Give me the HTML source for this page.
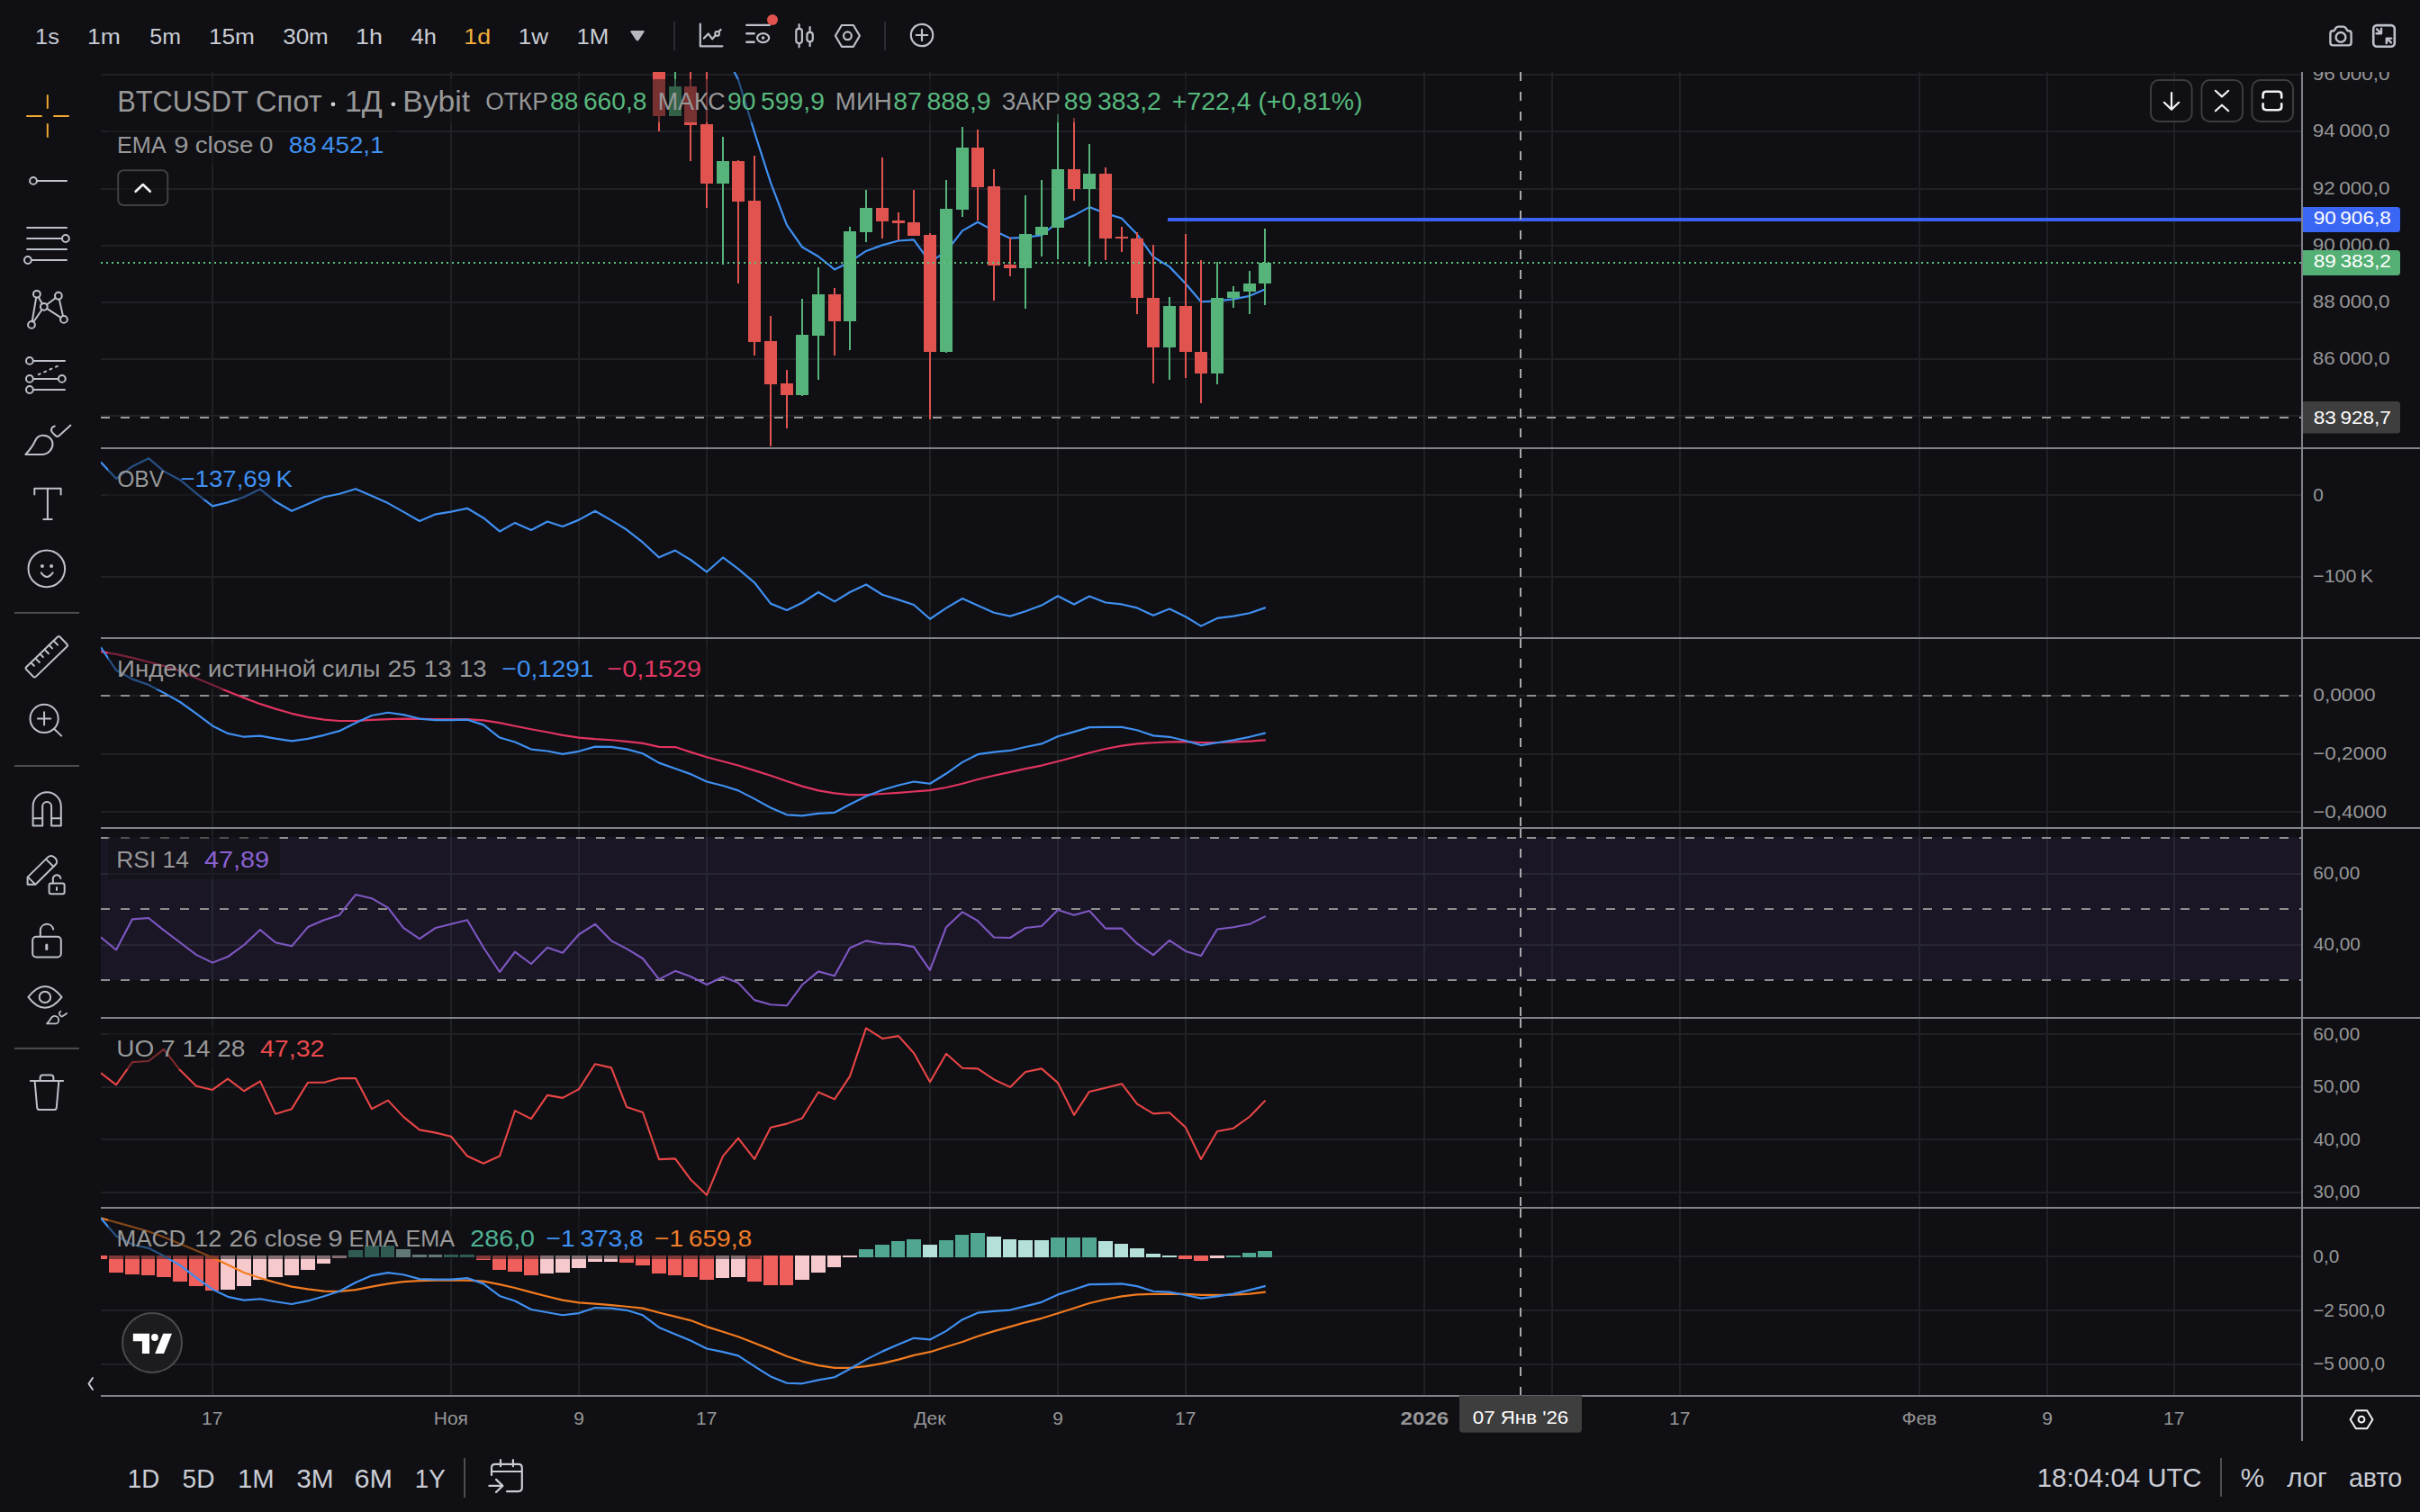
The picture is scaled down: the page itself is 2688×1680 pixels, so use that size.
<!DOCTYPE html><html><head><meta charset="utf-8"><style>
html,body{margin:0;padding:0;background:#0f0f14;width:2688px;height:1680px;overflow:hidden;}
svg{position:absolute;left:0;top:0;}
text{font-family:'Liberation Sans', Arial, sans-serif;}
</style></head><body>
<svg width="2688" height="1680" viewBox="0 0 2688 1680">
<defs>
<clipPath id="c_main"><rect x="112" y="80" width="2444" height="417"/></clipPath>
<clipPath id="c_obv"><rect x="112" y="499" width="2444" height="209"/></clipPath>
<clipPath id="c_tsi"><rect x="112" y="710" width="2444" height="209"/></clipPath>
<clipPath id="c_rsi"><rect x="112" y="921" width="2444" height="209"/></clipPath>
<clipPath id="c_uo"><rect x="112" y="1132" width="2444" height="209"/></clipPath>
<clipPath id="c_macd"><rect x="112" y="1343" width="2444" height="207"/></clipPath>
<clipPath id="c_pmain"><rect x="2558" y="80" width="130" height="417"/></clipPath>
</defs>
<g shape-rendering="crispEdges" fill="#1f2125">
<rect x="235" y="80" width="2" height="1470"/>
<rect x="500" y="80" width="2" height="1470"/>
<rect x="642" y="80" width="2" height="1470"/>
<rect x="784" y="80" width="2" height="1470"/>
<rect x="1032" y="80" width="2" height="1470"/>
<rect x="1174" y="80" width="2" height="1470"/>
<rect x="1316" y="80" width="2" height="1470"/>
<rect x="1581" y="80" width="2" height="1470"/>
<rect x="1723" y="80" width="2" height="1470"/>
<rect x="1865" y="80" width="2" height="1470"/>
<rect x="2131" y="80" width="2" height="1470"/>
<rect x="2273" y="80" width="2" height="1470"/>
<rect x="2414" y="80" width="2" height="1470"/>
<rect x="112" y="82" width="2444" height="2"/>
<rect x="112" y="145" width="2444" height="2"/>
<rect x="112" y="209" width="2444" height="2"/>
<rect x="112" y="272" width="2444" height="2"/>
<rect x="112" y="335" width="2444" height="2"/>
<rect x="112" y="398" width="2444" height="2"/>
<rect x="112" y="461" width="2444" height="2"/>
<rect x="112" y="549" width="2444" height="2"/>
<rect x="112" y="640" width="2444" height="2"/>
<rect x="112" y="772" width="2444" height="2"/>
<rect x="112" y="837" width="2444" height="2"/>
<rect x="112" y="901" width="2444" height="2"/>
<rect x="112" y="970" width="2444" height="2"/>
<rect x="112" y="1049" width="2444" height="2"/>
<rect x="112" y="1148" width="2444" height="2"/>
<rect x="112" y="1207" width="2444" height="2"/>
<rect x="112" y="1265" width="2444" height="2"/>
<rect x="112" y="1324" width="2444" height="2"/>
<rect x="112" y="1395" width="2444" height="2"/>
<rect x="112" y="1455" width="2444" height="2"/>
<rect x="112" y="1515" width="2444" height="2"/>
</g>
<rect x="112" y="930" width="2444" height="159" fill="rgba(126,87,194,0.1)" shape-rendering="crispEdges"/>
<line x1="112" y1="773" x2="2556" y2="773" stroke="#8f8f8f" stroke-width="2" stroke-dasharray="10 12" shape-rendering="crispEdges"/>
<line x1="112" y1="931" x2="2556" y2="931" stroke="#8f8f8f" stroke-width="2" stroke-dasharray="10 12" shape-rendering="crispEdges"/>
<line x1="112" y1="1010" x2="2556" y2="1010" stroke="#8f8f8f" stroke-width="2" stroke-dasharray="10 12" shape-rendering="crispEdges"/>
<line x1="112" y1="1089" x2="2556" y2="1089" stroke="#8f8f8f" stroke-width="2" stroke-dasharray="10 12" shape-rendering="crispEdges"/>
<line x1="112" y1="464" x2="2556" y2="464" stroke="#9a9a9a" stroke-width="2" stroke-dasharray="10 12" shape-rendering="crispEdges"/>
<g clip-path="url(#c_main)">
<path d="M767 -21.38 L785 23.69 L803 54.75 L820 88.6 L838 146.88 L856 202.91 L874 250.12 L891 274.5 L909 285 L927 299.4 L944 290.92 L962 278.94 L980 272.35 L998 267.48 L1015 266.38 L1033 291.31 L1051 279.45 L1069 256.36 L1086 246.68 L1104 256.35 L1122 264.68 L1139 263.74 L1157 261.39 L1175 246.72 L1193 239.37 L1210 230.1 L1228 237.08 L1246 242.66 L1263 260.33 L1281 285.46 L1299 296.37 L1317 315.3 L1334 335.24 L1352 334.39 L1370 332.31 L1388 328.85 L1405 321.48" fill="none" stroke="#3f8ff0" stroke-width="2.2" stroke-linejoin="round" stroke-linecap="round"/>
<g shape-rendering="crispEdges">
<rect x="731" y="70" width="2" height="76" fill="#e0534f"/>
<rect x="725" y="70" width="14" height="59" fill="#e0534f"/>
<rect x="749" y="70" width="2" height="59" fill="#56b37a"/>
<rect x="743" y="96" width="14" height="33" fill="#56b37a"/>
<rect x="766" y="70" width="2" height="109" fill="#e0534f"/>
<rect x="760" y="96" width="14" height="43" fill="#e0534f"/>
<rect x="784" y="70" width="2" height="161" fill="#e0534f"/>
<rect x="778" y="138" width="14" height="66" fill="#e0534f"/>
<rect x="802" y="152" width="2" height="142" fill="#56b37a"/>
<rect x="796" y="179" width="14" height="25" fill="#56b37a"/>
<rect x="819" y="178" width="2" height="137" fill="#e0534f"/>
<rect x="813" y="179" width="14" height="45" fill="#e0534f"/>
<rect x="837" y="173" width="2" height="222" fill="#e0534f"/>
<rect x="831" y="223" width="14" height="157" fill="#e0534f"/>
<rect x="855" y="351" width="2" height="145" fill="#e0534f"/>
<rect x="849" y="379" width="14" height="48" fill="#e0534f"/>
<rect x="873" y="411" width="2" height="65" fill="#e0534f"/>
<rect x="867" y="426" width="14" height="13" fill="#e0534f"/>
<rect x="890" y="332" width="2" height="108" fill="#56b37a"/>
<rect x="884" y="372" width="14" height="67" fill="#56b37a"/>
<rect x="908" y="297" width="2" height="125" fill="#56b37a"/>
<rect x="902" y="327" width="14" height="46" fill="#56b37a"/>
<rect x="926" y="320" width="2" height="75" fill="#e0534f"/>
<rect x="920" y="327" width="14" height="30" fill="#e0534f"/>
<rect x="943" y="252" width="2" height="137" fill="#56b37a"/>
<rect x="937" y="257" width="14" height="100" fill="#56b37a"/>
<rect x="961" y="211" width="2" height="58" fill="#56b37a"/>
<rect x="955" y="231" width="14" height="27" fill="#56b37a"/>
<rect x="979" y="175" width="2" height="90" fill="#e0534f"/>
<rect x="973" y="231" width="14" height="15" fill="#e0534f"/>
<rect x="997" y="236" width="2" height="31" fill="#e0534f"/>
<rect x="991" y="245" width="14" height="3" fill="#e0534f"/>
<rect x="1014" y="211" width="2" height="51" fill="#e0534f"/>
<rect x="1008" y="247" width="14" height="15" fill="#e0534f"/>
<rect x="1032" y="259" width="2" height="207" fill="#e0534f"/>
<rect x="1026" y="261" width="14" height="130" fill="#e0534f"/>
<rect x="1050" y="200" width="2" height="192" fill="#56b37a"/>
<rect x="1044" y="232" width="14" height="159" fill="#56b37a"/>
<rect x="1068" y="141" width="2" height="100" fill="#56b37a"/>
<rect x="1062" y="164" width="14" height="69" fill="#56b37a"/>
<rect x="1085" y="144" width="2" height="101" fill="#e0534f"/>
<rect x="1079" y="164" width="14" height="44" fill="#e0534f"/>
<rect x="1103" y="188" width="2" height="146" fill="#e0534f"/>
<rect x="1097" y="207" width="14" height="88" fill="#e0534f"/>
<rect x="1121" y="264" width="2" height="43" fill="#e0534f"/>
<rect x="1115" y="294" width="14" height="4" fill="#e0534f"/>
<rect x="1138" y="217" width="2" height="126" fill="#56b37a"/>
<rect x="1132" y="260" width="14" height="38" fill="#56b37a"/>
<rect x="1156" y="200" width="2" height="85" fill="#56b37a"/>
<rect x="1150" y="252" width="14" height="9" fill="#56b37a"/>
<rect x="1174" y="127" width="2" height="161" fill="#56b37a"/>
<rect x="1168" y="188" width="14" height="65" fill="#56b37a"/>
<rect x="1192" y="131" width="2" height="92" fill="#e0534f"/>
<rect x="1186" y="188" width="14" height="22" fill="#e0534f"/>
<rect x="1209" y="160" width="2" height="136" fill="#56b37a"/>
<rect x="1203" y="193" width="14" height="17" fill="#56b37a"/>
<rect x="1227" y="186" width="2" height="103" fill="#e0534f"/>
<rect x="1221" y="193" width="14" height="72" fill="#e0534f"/>
<rect x="1245" y="252" width="2" height="28" fill="#e0534f"/>
<rect x="1239" y="263" width="14" height="2" fill="#e0534f"/>
<rect x="1262" y="258" width="2" height="91" fill="#e0534f"/>
<rect x="1256" y="265" width="14" height="66" fill="#e0534f"/>
<rect x="1280" y="272" width="2" height="154" fill="#e0534f"/>
<rect x="1274" y="331" width="14" height="55" fill="#e0534f"/>
<rect x="1298" y="330" width="2" height="92" fill="#56b37a"/>
<rect x="1292" y="340" width="14" height="46" fill="#56b37a"/>
<rect x="1316" y="260" width="2" height="160" fill="#e0534f"/>
<rect x="1310" y="340" width="14" height="51" fill="#e0534f"/>
<rect x="1333" y="289" width="2" height="159" fill="#e0534f"/>
<rect x="1327" y="391" width="14" height="24" fill="#e0534f"/>
<rect x="1351" y="291" width="2" height="136" fill="#56b37a"/>
<rect x="1345" y="331" width="14" height="84" fill="#56b37a"/>
<rect x="1369" y="318" width="2" height="24" fill="#56b37a"/>
<rect x="1363" y="324" width="14" height="7" fill="#56b37a"/>
<rect x="1387" y="301" width="2" height="48" fill="#56b37a"/>
<rect x="1381" y="315" width="14" height="9" fill="#56b37a"/>
<rect x="1404" y="254" width="2" height="85" fill="#56b37a"/>
<rect x="1398" y="292" width="14" height="23" fill="#56b37a"/>
</g>
<rect x="1297" y="242" width="1259" height="4" fill="#3b63f2" shape-rendering="crispEdges"/>
<line x1="112" y1="292" x2="2556" y2="292" stroke="#5cc580" stroke-width="2" stroke-dasharray="2 4" shape-rendering="crispEdges"/>
</g>
<path d="M112.5 514.09 L129 531.81 L147 518.18 L165 509.18 L182 523.63 L200 533.18 L218 548.18 L236 562.36 L253 558.27 L271 552.27 L289 543.54 L306 557.18 L324 567.81 L342 559.9 L360 552.27 L377 548.72 L395 543.27 L413 550.9 L431 559.09 L448 568.63 L466 578.99 L484 571.36 L501 568.63 L519 564.81 L537 575.45 L555 590.45 L572 580.9 L590 589.08 L608 579.54 L625 584.99 L643 577.63 L661 567.81 L679 578.17 L696 588.54 L714 602.72 L732 619.35 L750 611.61 L767 622 L785 635.49 L803 619.47 L820 632.12 L838 647.29 L856 670.61 L874 677.92 L891 669.77 L909 657.97 L927 668.36 L944 657.97 L962 649.54 L980 660.78 L998 666.4 L1015 672.02 L1033 687.75 L1051 675.67 L1069 664.99 L1086 672.86 L1104 680.73 L1122 684.66 L1139 679.32 L1157 672.58 L1175 662.18 L1193 671.45 L1210 662.46 L1228 669.49 L1246 671.45 L1263 675.39 L1281 683.82 L1299 676.51 L1317 685.22 L1334 695.62 L1352 686.91 L1370 684.66 L1388 681.29 L1405 675.39" fill="none" stroke="#3f8ff0" stroke-width="2.2" stroke-linejoin="round" stroke-linecap="round" clip-path="url(#c_obv)"/>
<path d="M112.5 724.09 L129 726.82 L147 730.91 L165 735.54 L182 739.91 L200 745.36 L218 753.54 L236 760.9 L253 768.27 L271 775.36 L289 782.17 L306 787.63 L324 792.81 L342 796.9 L360 799.63 L377 800.99 L395 800.99 L413 799.9 L431 799.08 L448 798.54 L466 798.81 L484 799.08 L501 799.08 L519 799.08 L537 800.45 L555 803.17 L572 806.72 L590 810.26 L608 813.54 L625 816.81 L643 819.54 L661 821.17 L679 822.26 L696 823.9 L714 825.81 L732 829.9 L750 830.04 L767 835.65 L785 841.27 L803 846.05 L820 850.55 L838 856.17 L856 861.79 L874 867.97 L891 873.59 L909 878.36 L927 881.45 L944 883.14 L962 883.14 L980 882.02 L998 880.89 L1015 879.49 L1033 878.08 L1051 874.99 L1069 870.78 L1086 866 L1104 861.79 L1122 857.85 L1139 854.2 L1157 850.55 L1175 846.05 L1193 841.27 L1210 836.5 L1228 832 L1246 828.63 L1263 826.38 L1281 825.26 L1299 824.42 L1317 824.13 L1334 824.98 L1352 824.98 L1370 824.42 L1388 823.57 L1405 822.45" fill="none" stroke="#e0345f" stroke-width="2.2" stroke-linejoin="round" stroke-linecap="round" clip-path="url(#c_tsi)"/>
<path d="M112.5 720 L129 744.54 L147 754.63 L165 760.9 L182 769.9 L200 779.99 L218 792.81 L236 806.45 L253 814.9 L271 818.72 L289 817.63 L306 820.63 L324 823.35 L342 820.9 L360 816.81 L377 812.17 L395 803.17 L413 794.99 L431 791.72 L448 794.17 L466 798.54 L484 800.17 L501 800.17 L519 799.63 L537 805.35 L555 819.54 L572 824.44 L590 832.62 L608 834.53 L625 837.81 L643 834.81 L661 829.63 L679 829.9 L696 832.35 L714 837.26 L732 847.62 L750 853.92 L767 860.1 L785 868.53 L803 873.02 L820 878.36 L838 887.64 L856 897.47 L874 905.34 L891 906.46 L909 903.93 L927 902.81 L944 893.82 L962 884.83 L980 877.8 L998 872.46 L1015 868.53 L1033 870.78 L1051 859.54 L1069 846.89 L1086 838.18 L1104 835.65 L1122 833.97 L1139 830.04 L1157 826.38 L1175 818.23 L1193 813.18 L1210 808.12 L1228 807.84 L1246 807.84 L1263 811.21 L1281 817.39 L1299 818.8 L1317 823.01 L1334 828.07 L1352 825.26 L1370 822.45 L1388 818.8 L1405 814.58" fill="none" stroke="#3f8ff0" stroke-width="2.2" stroke-linejoin="round" stroke-linecap="round" clip-path="url(#c_tsi)"/>
<path d="M112.5 1041.81 L129 1055.44 L147 1021.35 L165 1019.99 L182 1033.63 L200 1047.26 L218 1060.9 L236 1069.62 L253 1063.08 L271 1049.99 L289 1033.08 L306 1047.26 L324 1051.35 L342 1030.08 L360 1022.17 L377 1016.72 L395 994.08 L413 998.17 L431 1008.54 L448 1030.9 L466 1043.17 L484 1030.9 L501 1026.81 L519 1022.17 L537 1052.71 L555 1079.99 L572 1057.62 L590 1070.99 L608 1052.71 L625 1058.71 L643 1038.26 L661 1026.81 L679 1045.35 L696 1054.08 L714 1064.99 L732 1088.17 L750 1078.81 L767 1084.99 L785 1093.98 L803 1085.55 L820 1092.02 L838 1111.12 L856 1116.18 L874 1117.3 L891 1094.26 L909 1079.37 L927 1084.15 L944 1053.24 L962 1045.37 L980 1048.46 L998 1049.03 L1015 1052.12 L1033 1077.97 L1051 1030.2 L1069 1013.34 L1086 1023.18 L1104 1041.44 L1122 1042 L1139 1031.04 L1157 1029.08 L1175 1011.09 L1193 1016.71 L1210 1011.94 L1228 1031.61 L1246 1031.61 L1263 1048.46 L1281 1061.11 L1299 1044.81 L1317 1056.89 L1334 1061.95 L1352 1032.45 L1370 1030.2 L1388 1026.83 L1405 1018.4" fill="none" stroke="#7e57c2" stroke-width="2.1" stroke-linejoin="round" stroke-linecap="round" clip-path="url(#c_rsi)"/>
<path d="M112.5 1192.63 L129 1205.45 L147 1180.09 L165 1179 L182 1165.91 L200 1189.09 L218 1206.81 L236 1210.9 L253 1198.63 L271 1212.26 L289 1201.36 L306 1237.63 L324 1232.17 L342 1202.72 L360 1202.72 L377 1198.08 L395 1198.08 L413 1232.17 L431 1222.63 L448 1240.9 L466 1255.35 L484 1258.62 L501 1262.71 L519 1284.53 L537 1292.71 L555 1284.53 L572 1234.08 L590 1243.08 L608 1216.9 L625 1219.9 L643 1210.08 L661 1182.27 L679 1186.36 L696 1229.99 L714 1235.99 L732 1288.08 L750 1287.41 L767 1310.45 L785 1327.87 L803 1284.6 L820 1264.65 L838 1287.97 L856 1252.84 L874 1248.63 L891 1242.45 L909 1213.51 L927 1221.38 L944 1195.81 L962 1142.42 L980 1153.94 L998 1151.13 L1015 1169.96 L1033 1202.27 L1051 1170.8 L1069 1186.82 L1086 1187.38 L1104 1199.46 L1122 1207.89 L1139 1191.03 L1157 1187.38 L1175 1203.11 L1193 1238.8 L1210 1212.95 L1228 1208.73 L1246 1204.24 L1263 1226.71 L1281 1237.39 L1299 1236.27 L1317 1252.84 L1334 1287.97 L1352 1257.06 L1370 1253.69 L1388 1240.76 L1405 1223.34" fill="none" stroke="#e84545" stroke-width="2.1" stroke-linejoin="round" stroke-linecap="round" clip-path="url(#c_uo)"/>
<g clip-path="url(#c_macd)" shape-rendering="crispEdges">
<rect x="104" y="1395" width="15" height="4" fill="#ef5f5c"/>
<rect x="121" y="1395" width="16" height="19" fill="#ef5f5c"/>
<rect x="139" y="1395" width="16" height="21" fill="#ef5f5c"/>
<rect x="157" y="1395" width="15" height="22" fill="#ef5f5c"/>
<rect x="174" y="1395" width="16" height="24" fill="#ef5f5c"/>
<rect x="192" y="1395" width="16" height="29" fill="#ef5f5c"/>
<rect x="210" y="1395" width="16" height="34" fill="#ef5f5c"/>
<rect x="228" y="1395" width="15" height="39" fill="#ef5f5c"/>
<rect x="245" y="1395" width="16" height="38" fill="#f6c9cc"/>
<rect x="263" y="1395" width="16" height="34" fill="#f6c9cc"/>
<rect x="281" y="1395" width="15" height="27" fill="#f6c9cc"/>
<rect x="298" y="1395" width="16" height="24" fill="#f6c9cc"/>
<rect x="316" y="1395" width="16" height="22" fill="#f6c9cc"/>
<rect x="334" y="1395" width="16" height="16" fill="#f6c9cc"/>
<rect x="352" y="1395" width="15" height="9" fill="#f6c9cc"/>
<rect x="369" y="1395" width="16" height="3" fill="#f6c9cc"/>
<rect x="387" y="1389" width="16" height="8" fill="#50a690"/>
<rect x="405" y="1384" width="16" height="13" fill="#50a690"/>
<rect x="423" y="1384" width="15" height="13" fill="#50a690"/>
<rect x="440" y="1388" width="16" height="9" fill="#b5e0da"/>
<rect x="458" y="1394" width="16" height="3" fill="#b5e0da"/>
<rect x="476" y="1394" width="15" height="3" fill="#b5e0da"/>
<rect x="493" y="1394" width="16" height="3" fill="#50a690"/>
<rect x="511" y="1394" width="16" height="3" fill="#50a690"/>
<rect x="529" y="1395" width="16" height="5" fill="#ef5f5c"/>
<rect x="547" y="1395" width="15" height="16" fill="#ef5f5c"/>
<rect x="564" y="1395" width="16" height="18" fill="#ef5f5c"/>
<rect x="582" y="1395" width="16" height="22" fill="#ef5f5c"/>
<rect x="600" y="1395" width="15" height="20" fill="#f6c9cc"/>
<rect x="617" y="1395" width="16" height="19" fill="#f6c9cc"/>
<rect x="635" y="1395" width="16" height="14" fill="#f6c9cc"/>
<rect x="653" y="1395" width="16" height="7" fill="#f6c9cc"/>
<rect x="671" y="1395" width="15" height="7" fill="#f6c9cc"/>
<rect x="688" y="1395" width="16" height="8" fill="#ef5f5c"/>
<rect x="706" y="1395" width="16" height="11" fill="#ef5f5c"/>
<rect x="724" y="1395" width="16" height="20" fill="#ef5f5c"/>
<rect x="742" y="1395" width="15" height="22" fill="#ef5f5c"/>
<rect x="759" y="1395" width="16" height="24" fill="#ef5f5c"/>
<rect x="777" y="1395" width="16" height="27" fill="#ef5f5c"/>
<rect x="795" y="1395" width="15" height="25" fill="#f6c9cc"/>
<rect x="812" y="1395" width="16" height="24" fill="#f6c9cc"/>
<rect x="830" y="1395" width="16" height="29" fill="#ef5f5c"/>
<rect x="848" y="1395" width="16" height="33" fill="#ef5f5c"/>
<rect x="866" y="1395" width="15" height="33" fill="#ef5f5c"/>
<rect x="883" y="1395" width="16" height="27" fill="#f6c9cc"/>
<rect x="901" y="1395" width="16" height="19" fill="#f6c9cc"/>
<rect x="919" y="1395" width="15" height="13" fill="#f6c9cc"/>
<rect x="936" y="1395" width="16" height="2" fill="#f6c9cc"/>
<rect x="954" y="1388" width="16" height="9" fill="#50a690"/>
<rect x="972" y="1383" width="16" height="14" fill="#50a690"/>
<rect x="990" y="1379" width="15" height="18" fill="#50a690"/>
<rect x="1007" y="1377" width="16" height="20" fill="#50a690"/>
<rect x="1025" y="1383" width="16" height="14" fill="#b5e0da"/>
<rect x="1043" y="1378" width="16" height="19" fill="#50a690"/>
<rect x="1061" y="1372" width="15" height="25" fill="#50a690"/>
<rect x="1078" y="1370" width="16" height="27" fill="#50a690"/>
<rect x="1096" y="1374" width="16" height="23" fill="#b5e0da"/>
<rect x="1114" y="1377" width="15" height="20" fill="#b5e0da"/>
<rect x="1131" y="1378" width="16" height="19" fill="#b5e0da"/>
<rect x="1149" y="1378" width="16" height="19" fill="#b5e0da"/>
<rect x="1167" y="1375" width="16" height="22" fill="#50a690"/>
<rect x="1185" y="1375" width="15" height="22" fill="#50a690"/>
<rect x="1202" y="1375" width="16" height="22" fill="#50a690"/>
<rect x="1220" y="1379" width="16" height="18" fill="#b5e0da"/>
<rect x="1238" y="1382" width="15" height="15" fill="#b5e0da"/>
<rect x="1255" y="1387" width="16" height="10" fill="#b5e0da"/>
<rect x="1273" y="1393" width="16" height="4" fill="#b5e0da"/>
<rect x="1291" y="1395" width="16" height="2" fill="#b5e0da"/>
<rect x="1309" y="1395" width="15" height="4" fill="#ef5f5c"/>
<rect x="1326" y="1395" width="16" height="6" fill="#ef5f5c"/>
<rect x="1344" y="1395" width="16" height="3" fill="#f6c9cc"/>
<rect x="1362" y="1395" width="16" height="2" fill="#50a690"/>
<rect x="1380" y="1392" width="15" height="5" fill="#50a690"/>
<rect x="1397" y="1390" width="16" height="7" fill="#50a690"/>
</g>
<path d="M112.5 1353.54 L129 1358.18 L147 1363.09 L165 1368.27 L182 1374.54 L200 1381.9 L218 1389.54 L236 1397.18 L253 1405.36 L271 1414.08 L289 1420.08 L306 1424.99 L324 1429.63 L342 1432.35 L360 1434.54 L377 1434.81 L395 1433.17 L413 1429.63 L431 1426.36 L448 1424.17 L466 1423.08 L484 1422.54 L501 1422.54 L519 1422.54 L537 1423.63 L555 1427.17 L572 1430.99 L590 1435.9 L608 1440.54 L625 1444.63 L643 1447.35 L661 1448.72 L679 1450.08 L696 1451.72 L714 1453.63 L732 1458.53 L750 1462.84 L767 1467.06 L785 1474.08 L803 1479.7 L820 1485.32 L838 1492.35 L856 1499.37 L874 1506.96 L891 1512.58 L909 1517.07 L927 1519.88 L944 1519.88 L962 1518.2 L980 1514.83 L998 1510.61 L1015 1505.83 L1033 1502.18 L1051 1496.56 L1069 1490.94 L1086 1484.76 L1104 1479.14 L1122 1474.08 L1139 1469.31 L1157 1464.81 L1175 1459.19 L1193 1453.57 L1210 1447.95 L1228 1443.74 L1246 1440.37 L1263 1438.4 L1281 1437.84 L1299 1437.56 L1317 1437.84 L1334 1438.96 L1352 1438.96 L1370 1438.68 L1388 1437.56 L1405 1435.59" fill="none" stroke="#f27b1f" stroke-width="2.2" stroke-linejoin="round" stroke-linecap="round" clip-path="url(#c_macd)"/>
<path d="M112.5 1354.09 L129 1373.18 L147 1382.72 L165 1386.81 L182 1395.54 L200 1405.9 L218 1419.54 L236 1432.63 L253 1440.81 L271 1444.63 L289 1443.26 L306 1446.26 L324 1448.99 L342 1445.44 L360 1440.26 L377 1434.81 L395 1424.99 L413 1417.36 L431 1414.08 L448 1416.27 L466 1421.17 L484 1421.72 L501 1421.72 L519 1420.08 L537 1426.36 L555 1439.99 L572 1445.44 L590 1454.99 L608 1458.26 L625 1461.26 L643 1459.08 L661 1453.08 L679 1453.63 L696 1455.81 L714 1461.26 L732 1474.9 L750 1482.51 L767 1489.54 L785 1498.53 L803 1502.18 L820 1506.4 L838 1518.2 L856 1529.44 L874 1536.74 L891 1537.3 L909 1533.37 L927 1530.28 L944 1521.01 L962 1510.61 L980 1501.62 L998 1493.75 L1015 1486.73 L1033 1488.41 L1051 1478.86 L1069 1466.22 L1086 1458.63 L1104 1456.94 L1122 1455.54 L1139 1451.32 L1157 1446.83 L1175 1438.4 L1193 1432.78 L1210 1427.16 L1228 1426.88 L1246 1426.32 L1263 1429.13 L1281 1434.75 L1299 1435.59 L1317 1438.96 L1334 1442.61 L1352 1440.37 L1370 1437.56 L1388 1433.34 L1405 1429.13" fill="none" stroke="#3f8ff0" stroke-width="2.2" stroke-linejoin="round" stroke-linecap="round" clip-path="url(#c_macd)"/>
<line x1="1689" y1="80" x2="1689" y2="497" stroke="#a8a8a8" stroke-width="2" stroke-dasharray="10 12" shape-rendering="crispEdges"/>
<line x1="1689" y1="499" x2="1689" y2="708" stroke="#a8a8a8" stroke-width="2" stroke-dasharray="10 12" shape-rendering="crispEdges"/>
<line x1="1689" y1="710" x2="1689" y2="919" stroke="#a8a8a8" stroke-width="2" stroke-dasharray="10 12" shape-rendering="crispEdges"/>
<line x1="1689" y1="921" x2="1689" y2="1130" stroke="#a8a8a8" stroke-width="2" stroke-dasharray="10 12" shape-rendering="crispEdges"/>
<line x1="1689" y1="1132" x2="1689" y2="1341" stroke="#a8a8a8" stroke-width="2" stroke-dasharray="10 12" shape-rendering="crispEdges"/>
<line x1="1689" y1="1343" x2="1689" y2="1550" stroke="#a8a8a8" stroke-width="2" stroke-dasharray="10 12" shape-rendering="crispEdges"/>
<rect x="120" y="88" width="1406" height="48" fill="rgba(15,15,20,0.5)"/>
<rect x="120" y="136" width="321" height="48" fill="rgba(15,15,20,0.5)"/>
<rect x="120" y="507" width="218" height="48" fill="rgba(15,15,20,0.5)"/>
<rect x="120" y="718" width="672" height="48" fill="rgba(15,15,20,0.5)"/>
<rect x="120" y="929" width="191" height="48" fill="rgba(15,15,20,0.5)"/>
<rect x="120" y="1140" width="249" height="48" fill="rgba(15,15,20,0.5)"/>
<rect x="120" y="1351" width="725" height="48" fill="rgba(15,15,20,0.5)"/>
<text x="130.23" y="124.00" font-size="33" fill="#989898" textLength="145.55" lengthAdjust="spacingAndGlyphs">BTCUSDT</text>
<text x="284.07" y="124.00" font-size="33" fill="#989898" textLength="73.55" lengthAdjust="spacingAndGlyphs">Спот</text>
<text x="382.96" y="124.00" font-size="33" fill="#989898" textLength="41.76" lengthAdjust="spacingAndGlyphs">1Д</text>
<text x="447.20" y="124.00" font-size="33" fill="#989898" textLength="74.97" lengthAdjust="spacingAndGlyphs">Bybit</text>
<circle cx="370.0" cy="115.8" r="2.4" fill="#d4d4d4"/>
<circle cx="436.9" cy="115.8" r="2.4" fill="#d4d4d4"/>
<text x="539.21" y="122.20" font-size="27" fill="#989898" textLength="69.59" lengthAdjust="spacingAndGlyphs">ОТКР</text>
<text x="611.03" y="122.20" font-size="27" fill="#58b87c" textLength="107.39" lengthAdjust="spacingAndGlyphs">88 660,8</text>
<text x="730.65" y="122.20" font-size="27" fill="#989898" textLength="75.09" lengthAdjust="spacingAndGlyphs">МАКС</text>
<text x="808.03" y="122.20" font-size="27" fill="#58b87c" textLength="107.85" lengthAdjust="spacingAndGlyphs">90 599,9</text>
<text x="927.89" y="122.20" font-size="27" fill="#989898" textLength="62.83" lengthAdjust="spacingAndGlyphs">МИН</text>
<text x="992.22" y="122.20" font-size="27" fill="#58b87c" textLength="108.36" lengthAdjust="spacingAndGlyphs">87 888,9</text>
<text x="1112.69" y="122.20" font-size="27" fill="#989898" textLength="65.21" lengthAdjust="spacingAndGlyphs">ЗАКР</text>
<text x="1181.72" y="122.20" font-size="27" fill="#58b87c" textLength="108.09" lengthAdjust="spacingAndGlyphs">89 383,2</text>
<text x="1301.88" y="122.20" font-size="27" fill="#58b87c" textLength="211.56" lengthAdjust="spacingAndGlyphs">+722,4 (+0,81%)</text>
<text x="129.89" y="170.00" font-size="26.5" fill="#989898" textLength="54.57" lengthAdjust="spacingAndGlyphs">EMA</text>
<text x="193.28" y="170.00" font-size="26.5" fill="#989898" textLength="16.27" lengthAdjust="spacingAndGlyphs">9</text>
<text x="216.69" y="170.00" font-size="26.5" fill="#989898" textLength="64.64" lengthAdjust="spacingAndGlyphs">close</text>
<text x="288.31" y="170.00" font-size="26.5" fill="#989898" textLength="15.18" lengthAdjust="spacingAndGlyphs">0</text>
<text x="320.75" y="170.00" font-size="26.5" fill="#3f91f2" textLength="105.70" lengthAdjust="spacingAndGlyphs">88 452,1</text>
<text x="130.19" y="541.00" font-size="26.5" fill="#989898" textLength="51.87" lengthAdjust="spacingAndGlyphs">OBV</text>
<text x="200.42" y="541.00" font-size="26.5" fill="#3f91f2" textLength="124.66" lengthAdjust="spacingAndGlyphs">−137,69 K</text>
<text x="130.09" y="752.20" font-size="26.5" fill="#989898" textLength="92.89" lengthAdjust="spacingAndGlyphs">Индекс</text>
<text x="230.74" y="752.20" font-size="26.5" fill="#989898" textLength="120.52" lengthAdjust="spacingAndGlyphs">истинной</text>
<text x="357.70" y="752.20" font-size="26.5" fill="#989898" textLength="64.64" lengthAdjust="spacingAndGlyphs">силы</text>
<text x="430.58" y="752.20" font-size="26.5" fill="#989898" textLength="31.63" lengthAdjust="spacingAndGlyphs">25</text>
<text x="470.83" y="752.20" font-size="26.5" fill="#989898" textLength="30.63" lengthAdjust="spacingAndGlyphs">13</text>
<text x="509.93" y="752.20" font-size="26.5" fill="#989898" textLength="30.63" lengthAdjust="spacingAndGlyphs">13</text>
<text x="557.61" y="752.20" font-size="26.5" fill="#3f91f2" textLength="101.62" lengthAdjust="spacingAndGlyphs">−0,1291</text>
<text x="674.36" y="752.20" font-size="26.5" fill="#e13764" textLength="104.71" lengthAdjust="spacingAndGlyphs">−0,1529</text>
<text x="129.29" y="963.50" font-size="26.5" fill="#989898" textLength="80.66" lengthAdjust="spacingAndGlyphs">RSI 14</text>
<text x="227.02" y="963.50" font-size="26.5" fill="#8a62d4" textLength="72.04" lengthAdjust="spacingAndGlyphs">47,89</text>
<text x="129.30" y="1174.00" font-size="26.5" fill="#989898" textLength="143.10" lengthAdjust="spacingAndGlyphs">UO 7 14 28</text>
<text x="288.93" y="1174.00" font-size="26.5" fill="#e84a4d" textLength="71.57" lengthAdjust="spacingAndGlyphs">47,32</text>
<text x="129.51" y="1384.60" font-size="26.5" fill="#989898" textLength="76.78" lengthAdjust="spacingAndGlyphs">MACD</text>
<text x="216.18" y="1384.60" font-size="26.5" fill="#989898" textLength="29.93" lengthAdjust="spacingAndGlyphs">12</text>
<text x="254.47" y="1384.60" font-size="26.5" fill="#989898" textLength="31.73" lengthAdjust="spacingAndGlyphs">26</text>
<text x="293.81" y="1384.60" font-size="26.5" fill="#989898" textLength="63.81" lengthAdjust="spacingAndGlyphs">close</text>
<text x="364.36" y="1384.60" font-size="26.5" fill="#989898" textLength="16.51" lengthAdjust="spacingAndGlyphs">9</text>
<text x="387.47" y="1384.60" font-size="26.5" fill="#989898" textLength="54.98" lengthAdjust="spacingAndGlyphs">EMA</text>
<text x="450.49" y="1384.60" font-size="26.5" fill="#989898" textLength="54.57" lengthAdjust="spacingAndGlyphs">EMA</text>
<text x="522.37" y="1384.60" font-size="26.5" fill="#4fb394" textLength="71.71" lengthAdjust="spacingAndGlyphs">286,0</text>
<text x="606.49" y="1384.60" font-size="26.5" fill="#3f91f2" textLength="108.22" lengthAdjust="spacingAndGlyphs">−1 373,8</text>
<text x="726.99" y="1384.60" font-size="26.5" fill="#f07d28" textLength="108.22" lengthAdjust="spacingAndGlyphs">−1 659,8</text>
<g clip-path="url(#c_pmain)">
<text x="2568.89" y="89.00" font-size="20.8" fill="#979797" textLength="85.60" lengthAdjust="spacingAndGlyphs">96 000,0</text>
<text x="2568.89" y="152.00" font-size="20.8" fill="#979797" textLength="85.60" lengthAdjust="spacingAndGlyphs">94 000,0</text>
<text x="2568.89" y="216.00" font-size="20.8" fill="#979797" textLength="85.60" lengthAdjust="spacingAndGlyphs">92 000,0</text>
<text x="2568.89" y="279.00" font-size="20.8" fill="#979797" textLength="85.60" lengthAdjust="spacingAndGlyphs">90 000,0</text>
<text x="2568.89" y="342.00" font-size="20.8" fill="#979797" textLength="85.60" lengthAdjust="spacingAndGlyphs">88 000,0</text>
<text x="2568.89" y="405.00" font-size="20.8" fill="#979797" textLength="85.60" lengthAdjust="spacingAndGlyphs">86 000,0</text>
</g>
<text x="2569.37" y="556.50" font-size="20.8" fill="#979797">0</text>
<text x="2569.12" y="647.10" font-size="20.8" fill="#979797" textLength="67.09" lengthAdjust="spacingAndGlyphs">−100 K</text>
<text x="2569.29" y="779.20" font-size="20.8" fill="#979797" textLength="69.47" lengthAdjust="spacingAndGlyphs">0,0000</text>
<text x="2569.07" y="844.30" font-size="20.8" fill="#979797" textLength="82.08" lengthAdjust="spacingAndGlyphs">−0,2000</text>
<text x="2569.07" y="908.50" font-size="20.8" fill="#979797" textLength="82.08" lengthAdjust="spacingAndGlyphs">−0,4000</text>
<text x="2569.16" y="977.40" font-size="20.8" fill="#979797">60,00</text>
<text x="2569.78" y="1056.20" font-size="20.8" fill="#979797">40,00</text>
<text x="2569.16" y="1155.50" font-size="20.8" fill="#979797">60,00</text>
<text x="2569.37" y="1214.30" font-size="20.8" fill="#979797">50,00</text>
<text x="2569.78" y="1272.50" font-size="20.8" fill="#979797">40,00</text>
<text x="2569.37" y="1331.20" font-size="20.8" fill="#979797">30,00</text>
<text x="2569.37" y="1402.50" font-size="20.8" fill="#979797">0,0</text>
<text x="2569.16" y="1462.50" font-size="20.8" fill="#979797">−2 500,0</text>
<text x="2569.16" y="1522.20" font-size="20.8" fill="#979797">−5 000,0</text>
<path d="M2558 230.0 H2662.5 a3.5 3.5 0 0 1 3.5 3.5 V254.5 a3.5 3.5 0 0 1 -3.5 3.5 H2558 Z" fill="#3a66f5"/>
<text x="2569.79" y="249.20" font-size="20.8" fill="#ffffff" textLength="85.92" lengthAdjust="spacingAndGlyphs">90 906,8</text>
<path d="M2558 278.0 H2662.5 a3.5 3.5 0 0 1 3.5 3.5 V302.5 a3.5 3.5 0 0 1 -3.5 3.5 H2558 Z" fill="#54b074"/>
<text x="2569.78" y="297.20" font-size="20.8" fill="#ffffff" textLength="86.15" lengthAdjust="spacingAndGlyphs">89 383,2</text>
<path d="M2558 446.0 H2662.5 a3.5 3.5 0 0 1 3.5 3.5 V478.0 a3.5 3.5 0 0 1 -3.5 3.5 H2558 Z" fill="#3e3e3e"/>
<text x="2569.78" y="470.60" font-size="20.8" fill="#ffffff" textLength="86.15" lengthAdjust="spacingAndGlyphs">83 928,7</text>
<text x="224.08" y="1583.30" font-size="21" fill="#979797">17</text>
<text x="481.73" y="1583.30" font-size="21" fill="#979797">Ноя</text>
<text x="637.17" y="1583.30" font-size="21" fill="#979797">9</text>
<text x="773.08" y="1583.30" font-size="21" fill="#979797">17</text>
<text x="1015.36" y="1583.30" font-size="21" fill="#979797">Дек</text>
<text x="1169.17" y="1583.30" font-size="21" fill="#979797">9</text>
<text x="1305.08" y="1583.30" font-size="21" fill="#979797">17</text>
<text x="1854.08" y="1583.30" font-size="21" fill="#979797">17</text>
<text x="2112.47" y="1583.30" font-size="21" fill="#979797">Фев</text>
<text x="2268.17" y="1583.30" font-size="21" fill="#979797">9</text>
<text x="2403.08" y="1583.30" font-size="21" fill="#979797">17</text>
<text x="1555.56" y="1583.30" font-size="21" fill="#979797" textLength="53.68" lengthAdjust="spacingAndGlyphs" font-weight="bold">2026</text>
<g fill="#80838a" shape-rendering="crispEdges">
<rect x="112" y="497" width="2576" height="2"/>
<rect x="112" y="708" width="2576" height="2"/>
<rect x="112" y="919" width="2576" height="2"/>
<rect x="112" y="1130" width="2576" height="2"/>
<rect x="112" y="1341" width="2576" height="2"/>
<rect x="112" y="1550" width="2576" height="2"/>
<rect x="2556" y="80" width="2" height="1521"/>
</g>
<text x="39.10" y="49.20" font-size="24.5" fill="#c9ccd3" textLength="26.82" lengthAdjust="spacingAndGlyphs">1s</text>
<text x="97.01" y="49.20" font-size="24.5" fill="#c9ccd3" textLength="36.79" lengthAdjust="spacingAndGlyphs">1m</text>
<text x="166.30" y="49.20" font-size="24.5" fill="#c9ccd3" textLength="34.60" lengthAdjust="spacingAndGlyphs">5m</text>
<text x="231.93" y="49.20" font-size="24.5" fill="#c9ccd3" textLength="50.98" lengthAdjust="spacingAndGlyphs">15m</text>
<text x="314.16" y="49.20" font-size="24.5" fill="#c9ccd3" textLength="50.64" lengthAdjust="spacingAndGlyphs">30m</text>
<text x="395.08" y="49.20" font-size="24.5" fill="#c9ccd3" textLength="29.93" lengthAdjust="spacingAndGlyphs">1h</text>
<text x="456.49" y="49.20" font-size="24.5" fill="#c9ccd3" textLength="28.32" lengthAdjust="spacingAndGlyphs">4h</text>
<text x="515.29" y="49.20" font-size="24.5" fill="#f3b03c" textLength="29.82" lengthAdjust="spacingAndGlyphs">1d</text>
<text x="575.75" y="49.20" font-size="24.5" fill="#c9ccd3" textLength="33.31" lengthAdjust="spacingAndGlyphs">1w</text>
<text x="640.46" y="49.20" font-size="24.5" fill="#c9ccd3" textLength="35.92" lengthAdjust="spacingAndGlyphs">1M</text>
<path d="M701.5 34 H714.5 Q716.5 34 715.4 35.8 L709.6 44.5 Q708 46.5 706.4 44.5 L700.6 35.8 Q699.5 34 701.5 34 Z" fill="#b6b8bf"/>
<rect x="748" y="24" width="2" height="32" fill="#2b2c31"/>
<rect x="982" y="24" width="2" height="32" fill="#2b2c31"/>
<path d="M777.8 26.7 V51.3 H802.4" fill="none" stroke="#bec1c9" stroke-width="2.2" stroke-linecap="round" stroke-linejoin="round"/>
<path d="M781.9 42.6 L786.7 37.4 L791.2 43.3 L794.4 39.6" fill="none" stroke="#bec1c9" stroke-width="2.2" stroke-linecap="round" stroke-linejoin="round"/>
<circle cx="796.6" cy="37.4" r="2.4" fill="none" stroke="#bec1c9" stroke-width="2"/>
<path d="M798.6 35.2 L800.6 32.8" fill="none" stroke="#bec1c9" stroke-width="2.2" stroke-linecap="round" stroke-linejoin="round"/>
<path d="M829.3 27.9 H854.6" fill="none" stroke="#bec1c9" stroke-width="2.4" stroke-linecap="round" stroke-linejoin="round"/>
<path d="M829.3 37.2 H837.6" fill="none" stroke="#bec1c9" stroke-width="2.4" stroke-linecap="round" stroke-linejoin="round"/>
<path d="M829.3 46.8 H837.6" fill="none" stroke="#bec1c9" stroke-width="2.4" stroke-linecap="round" stroke-linejoin="round"/>
<ellipse cx="847.6" cy="42.1" rx="6.6" ry="5" fill="none" stroke="#bec1c9" stroke-width="2.2"/>
<circle cx="847.6" cy="42.1" r="1.8" fill="#bec1c9"/>
<circle cx="858" cy="21.9" r="6" fill="#e0534f"/>
<rect x="884.3" y="31.8" width="6.6" height="16.2" rx="3" fill="none" stroke="#bec1c9" stroke-width="2.2"/>
<path d="M887.6 27.2 V31.8 M887.6 48 V52.3" fill="none" stroke="#bec1c9" stroke-width="2.2" stroke-linecap="round" stroke-linejoin="round"/>
<rect x="896.4" y="35.9" width="6.4" height="10.4" rx="3" fill="none" stroke="#bec1c9" stroke-width="2.2"/>
<path d="M899.6 30.2 V35.9 M899.6 46.3 V51.2" fill="none" stroke="#bec1c9" stroke-width="2.2" stroke-linecap="round" stroke-linejoin="round"/>
<path d="M934.9 28 H947.9 L954.9 39.8 L947.9 51.8 H934.9 L927.9 39.8 Z" fill="none" stroke="#bec1c9" stroke-width="2.2" stroke-linecap="round" stroke-linejoin="round"/>
<circle cx="941.4" cy="39.8" r="4.4" fill="none" stroke="#bec1c9" stroke-width="2.2"/>
<circle cx="1024" cy="39" r="12.2" fill="none" stroke="#bec1c9" stroke-width="2.2"/>
<path d="M1017.7 39 H1030.3 M1024 32.9 V45.1" fill="none" stroke="#bec1c9" stroke-width="2.2" stroke-linecap="round" stroke-linejoin="round"/>
<path d="M2592.5 34.2 L2594.6 31 Q2595.6 29.6 2597.2 29.6 H2602.8 Q2604.4 29.6 2605.4 31 L2607.5 34.2 H2608.6 Q2611.6 34.2 2611.6 37.2 V47.6 Q2611.6 50.4 2608.6 50.4 H2591.4 Q2588.4 50.4 2588.4 47.6 V37.2 Q2588.4 34.2 2591.4 34.2 Z" fill="none" stroke="#bec1c9" stroke-width="2.4" stroke-linecap="round" stroke-linejoin="round"/>
<circle cx="2600" cy="41.4" r="5.4" fill="none" stroke="#bec1c9" stroke-width="2.4"/>
<rect x="2636.2" y="28.1" width="23.6" height="23.6" rx="4" fill="none" stroke="#bec1c9" stroke-width="2.6"/>
<path d="M2640 32.3 L2644.6 36.9 M2645 31.8 V37.3 H2639.5" fill="none" stroke="#bec1c9" stroke-width="2.4" stroke-linecap="round" stroke-linejoin="round"/>
<path d="M2656 47.4 L2651.2 42.6 M2650.8 48 V42.6 H2656.3" fill="none" stroke="#bec1c9" stroke-width="2.4" stroke-linecap="round" stroke-linejoin="round"/>
<path d="M30 129 H46 M60 129 H76 M52.8 106 V120 M52.8 138 V152" fill="none" stroke="#f0a733" stroke-width="2" stroke-linecap="round" stroke-linejoin="round" stroke-linecap="butt"/>
<circle cx="37" cy="200.9" r="3.9" fill="none" stroke="#bec1c9" stroke-width="2"/>
<path d="M41 200.9 H74" fill="none" stroke="#bec1c9" stroke-width="2" stroke-linecap="round" stroke-linejoin="round" stroke-linecap="butt"/>
<path d="M30.1 252.9 H74 M30.1 265 H68.9 M30.1 277 H74 M34.9 289 H74" fill="none" stroke="#bec1c9" stroke-width="2" stroke-linecap="round" stroke-linejoin="round" stroke-linecap="butt"/>
<circle cx="72.9" cy="265" r="3.9" fill="none" stroke="#bec1c9" stroke-width="2"/>
<circle cx="30.9" cy="289" r="3.9" fill="none" stroke="#bec1c9" stroke-width="2"/>
<path d="M40.2 330.6 L35.7 357.1 M42.8 330.2 L46.9 337.4 M46.6 344.0 L37.2 357.7 M51.9 338.5 L61.8 331.0 M52.1 342.9 L67.6 352.8 M65.8 332.5 L70.0 351.1" fill="none" stroke="#bec1c9" stroke-width="2" stroke-linecap="round" stroke-linejoin="round" stroke-linecap="butt"/>
<circle cx="40.9" cy="326.8" r="3.9" fill="none" stroke="#bec1c9" stroke-width="2"/>
<circle cx="64.9" cy="328.7" r="3.9" fill="none" stroke="#bec1c9" stroke-width="2"/>
<circle cx="48.8" cy="340.8" r="3.9" fill="none" stroke="#bec1c9" stroke-width="2"/>
<circle cx="35" cy="360.9" r="3.9" fill="none" stroke="#bec1c9" stroke-width="2"/>
<circle cx="70.9" cy="354.9" r="3.9" fill="none" stroke="#bec1c9" stroke-width="2"/>
<circle cx="32.9" cy="400.9" r="3.9" fill="none" stroke="#bec1c9" stroke-width="2"/>
<path d="M36.8 400.9 H72" fill="none" stroke="#bec1c9" stroke-width="2" stroke-linecap="round" stroke-linejoin="round" stroke-linecap="butt"/>
<circle cx="32.9" cy="420.9" r="3.9" fill="none" stroke="#bec1c9" stroke-width="2"/>
<circle cx="68.8" cy="420.9" r="3.9" fill="none" stroke="#bec1c9" stroke-width="2"/>
<path d="M36.8 420.9 H64.9" fill="none" stroke="#bec1c9" stroke-width="2" stroke-linecap="round" stroke-linejoin="round" stroke-linecap="butt"/>
<circle cx="32.9" cy="433" r="3.9" fill="none" stroke="#bec1c9" stroke-width="2"/>
<path d="M36.8 433 H72" fill="none" stroke="#bec1c9" stroke-width="2" stroke-linecap="round" stroke-linejoin="round" stroke-linecap="butt"/>
<path d="M42.8 416.2 L67.3 405.3" fill="none" stroke="#bec1c9" stroke-width="2" stroke-linecap="round" stroke-linejoin="round" stroke-dasharray="2 5" stroke-linecap="butt"/>
<path d="M28.4 505 H46.5 C53 505 58.5 499.5 58.5 493.5 C58.5 488 53.8 483.7 47.8 483.7 C43.5 483.7 40.8 486 39.2 489.5 C36.8 495 32.5 500.5 28.4 505 Z" fill="none" stroke="#bec1c9" stroke-width="2" stroke-linecap="round" stroke-linejoin="round"/>
<path d="M60.8 473.4 C57.6 473.8 55.6 477.8 58.2 480.6 L61.6 484 C62.8 485.2 64.6 485.2 65.8 484 L78.4 472.6" fill="none" stroke="#bec1c9" stroke-width="2" stroke-linecap="round" stroke-linejoin="round"/>
<path d="M38.3 549.6 V542.7 H67.6 V549.6 M52.9 542.7 V576.9 M48.3 576.9 H57.7" fill="none" stroke="#bec1c9" stroke-width="2" stroke-linecap="round" stroke-linejoin="round" stroke-linecap="butt" stroke-linejoin="miter"/>
<circle cx="51.8" cy="631.9" r="20.3" fill="none" stroke="#bec1c9" stroke-width="2"/>
<circle cx="46.9" cy="628.9" r="2" fill="#bec1c9"/><circle cx="57.1" cy="628.9" r="2" fill="#bec1c9"/>
<path d="M45.7 636.4 Q52.1 645.5 58.6 636.4" fill="none" stroke="#bec1c9" stroke-width="2" stroke-linecap="round" stroke-linejoin="round"/>
<rect x="16" y="679.9" width="72" height="2" fill="#4d4d4f"/>
<rect x="16" y="850.0" width="72" height="2" fill="#4d4d4f"/>
<rect x="16" y="1163.9" width="72" height="2" fill="#4d4d4f"/>
<g transform="translate(51.8 729.8) rotate(-44)">
<rect x="-26" y="-7.5" width="52" height="15" rx="2" fill="none" stroke="#bec1c9" stroke-width="2"/>
<path d="M-17 -7.5 V-2.5 M-10 -7.5 V-1 M-3 -7.5 V-2.5 M4 -7.5 V-1 M11 -7.5 V-2.5 M18 -7.5 V-1" fill="none" stroke="#bec1c9" stroke-width="2" stroke-linecap="round" stroke-linejoin="round" stroke-linecap="butt"/>
</g>
<circle cx="49.1" cy="798.4" r="15.6" fill="none" stroke="#bec1c9" stroke-width="2"/>
<path d="M41.9 798.4 H56.3 M49.1 791.2 V805.6 M60.6 810.2 L68.2 817.6" fill="none" stroke="#bec1c9" stroke-width="2" stroke-linecap="round" stroke-linejoin="round" stroke-linecap="butt"/>
<path d="M36.6 917.5 V895.9 A15.6 15.6 0 0 1 67.8 895.9 V917.5 H57.1 V895.9 A4.95 4.95 0 0 0 47.2 895.9 V917.5 Z M36.6 909.2 H47.2 M57.1 909.2 H67.8" fill="none" stroke="#bec1c9" stroke-width="2" stroke-linecap="round" stroke-linejoin="round" stroke-linejoin="miter"/>
<path d="M30.6 982.8 V974.6 L53.2 952.4 C55.2 950.4 58.2 950.4 60.2 952.4 L61.6 953.8 C63.6 955.8 63.6 958.8 61.6 960.8 L39.4 982.8 Z M30.8 974.4 L39.2 982.6 M51 954.6 L59.6 963" fill="none" stroke="#bec1c9" stroke-width="2" stroke-linecap="round" stroke-linejoin="round"/>
<rect x="54.6" y="981.4" width="17" height="11.8" rx="2" fill="none" stroke="#bec1c9" stroke-width="2"/>
<path d="M58.8 981.4 V977 A4.3 4.3 0 0 1 67.4 976" fill="none" stroke="#bec1c9" stroke-width="2" stroke-linecap="round" stroke-linejoin="round"/>
<rect x="62" y="985.3" width="2" height="4.4" fill="#bec1c9"/>
<rect x="36.2" y="1040.8" width="31.6" height="22.6" rx="4" fill="none" stroke="#bec1c9" stroke-width="2"/>
<path d="M44.8 1040.8 V1033.4 A7.3 7.3 0 0 1 59.2 1032.6" fill="none" stroke="#bec1c9" stroke-width="2" stroke-linecap="round" stroke-linejoin="round"/>
<rect x="50.3" y="1048.4" width="3" height="7.6" rx="1.5" fill="#bec1c9"/>
<path d="M31.4 1107.9 Q49.9 1084 68.6 1107.9 Q49.9 1131.8 31.4 1107.9 Z" fill="none" stroke="#bec1c9" stroke-width="2" stroke-linecap="round" stroke-linejoin="round"/>
<circle cx="49.9" cy="1107.9" r="6.2" fill="none" stroke="#bec1c9" stroke-width="2"/>
<path d="M52.1 1137.4 H62 C64 1137.4 65.2 1135.3 65.2 1133.3 C65.2 1130.8 63.2 1128.9 60.6 1128.9 C58.4 1128.9 57.2 1130.3 56.3 1132 C55.2 1134 53.6 1135.8 52.1 1137.4 Z" fill="none" stroke="#bec1c9" stroke-width="1.8" stroke-linecap="round" stroke-linejoin="round"/>
<path d="M67.4 1123.8 C65.7 1124.6 65.3 1126.6 66.5 1127.8 L67.6 1128.9 C68.2 1129.5 69.1 1129.5 69.7 1128.9 L74.1 1125.9" fill="none" stroke="#bec1c9" stroke-width="1.8" stroke-linecap="round" stroke-linejoin="round"/>
<path d="M33.8 1201 H70.1" fill="none" stroke="#bec1c9" stroke-width="2" stroke-linecap="round" stroke-linejoin="round" stroke-linecap="butt"/>
<path d="M44.6 1201 V1197.6 Q44.6 1194.5 47.6 1194.5 H56.4 Q59.4 1194.5 59.4 1197.6 V1201" fill="none" stroke="#bec1c9" stroke-width="2" stroke-linecap="round" stroke-linejoin="round"/>
<path d="M38.6 1201 L41.2 1230.6 Q41.5 1233.1 44 1233.1 H60 Q62.5 1233.1 62.8 1230.6 L65.4 1201" fill="none" stroke="#bec1c9" stroke-width="2" stroke-linecap="round" stroke-linejoin="round"/>
<path d="M103 1531 L98.5 1537.5 L103 1544" fill="none" stroke="#c9ccd3" stroke-width="2" stroke-linecap="round" stroke-linejoin="round"/>
<rect x="2389.0" y="89.1" width="45.6" height="45.8" rx="9" fill="rgba(15,15,20,0.6)" stroke="#3d3d3f" stroke-width="2"/>
<rect x="2445.4" y="89.1" width="45.6" height="45.8" rx="9" fill="rgba(15,15,20,0.6)" stroke="#3d3d3f" stroke-width="2"/>
<rect x="2501.4" y="89.1" width="45.6" height="45.8" rx="9" fill="rgba(15,15,20,0.6)" stroke="#3d3d3f" stroke-width="2"/>
<path d="M2412 103 V121.4 M2403.8 113.8 L2412 121.6 L2420.2 113.8" fill="none" stroke="#f2f2f2" stroke-width="2.2" stroke-linecap="round" stroke-linejoin="round"/>
<path d="M2460.8 100.8 L2468 107.4 L2475.2 100.8 M2460.8 123.2 L2468 116.7 L2475.2 123.2" fill="none" stroke="#f2f2f2" stroke-width="2.2" stroke-linecap="round" stroke-linejoin="round"/>
<path d="M2513.6 108.6 V105.4 Q2513.6 101.8 2517.2 101.8 H2530.8 Q2534.2 101.8 2534.2 105.4 V108.6 M2513.6 115.4 V118.6 Q2513.6 122.2 2517.2 122.2 H2530.8 Q2534.2 122.2 2534.2 118.6 V115.4" fill="none" stroke="#f2f2f2" stroke-width="2.6" stroke-linecap="round" stroke-linejoin="round" stroke-linecap="butt"/>
<rect x="131.2" y="189.2" width="55" height="38.8" rx="6" fill="rgba(15,15,20,0.6)" stroke="#404042" stroke-width="2"/>
<path d="M150.6 212.8 L158.8 205 L166.8 212.8" fill="none" stroke="#f2f2f2" stroke-width="2.6" stroke-linecap="round" stroke-linejoin="round"/>
<path d="M2616.8 1567.2 H2629.2 L2635.4 1577.2 L2629.2 1587.2 H2616.8 L2610.6 1577.2 Z" fill="none" stroke="#f2f2f2" stroke-width="2" stroke-linecap="round" stroke-linejoin="round"/>
<circle cx="2623" cy="1577.2" r="3.4" fill="none" stroke="#f2f2f2" stroke-width="2"/>
<circle cx="169" cy="1491.9" r="33" fill="#1c1c1e" stroke="#4a4a4a" stroke-width="2"/>
<path d="M147.8 1481.8 H166 V1504 H157.9 V1490.2 H147.8 Z" fill="#ffffff"/>
<circle cx="171.9" cy="1486" r="3.9" fill="#ffffff"/>
<path d="M181.2 1481.8 H191 L182 1504 H172.2 Z" fill="#ffffff"/>
<text x="141.72" y="1653.00" font-size="29.2" fill="#c9ccd3" textLength="35.42" lengthAdjust="spacingAndGlyphs">1D</text>
<text x="202.58" y="1653.00" font-size="29.2" fill="#c9ccd3" textLength="35.88" lengthAdjust="spacingAndGlyphs">5D</text>
<text x="264.00" y="1653.00" font-size="29.2" fill="#c9ccd3" textLength="40.66" lengthAdjust="spacingAndGlyphs">1M</text>
<text x="329.20" y="1653.00" font-size="29.2" fill="#c9ccd3" textLength="41.51" lengthAdjust="spacingAndGlyphs">3M</text>
<text x="393.57" y="1653.00" font-size="29.2" fill="#c9ccd3" textLength="42.51" lengthAdjust="spacingAndGlyphs">6M</text>
<text x="460.82" y="1653.00" font-size="29.2" fill="#c9ccd3" textLength="33.92" lengthAdjust="spacingAndGlyphs">1Y</text>
<rect x="515" y="1620" width="2" height="44" fill="#4f4f51"/>
<path d="M546 1639.1 V1631 Q546 1626.9 550 1626.9 H575.8 Q579.8 1626.9 579.8 1631 V1653.1 Q579.8 1657.1 575.8 1657.1 H563 M546 1635 H579.8 M556 1622.2 V1629.2 M569.9 1622.2 V1629.2" fill="none" stroke="#c9ccd3" stroke-width="2.2" stroke-linecap="round" stroke-linejoin="round" stroke-linecap="butt"/>
<path d="M543.4 1650.9 H558.4 M551 1643.9 L558.4 1650.9 L551 1658" fill="none" stroke="#c9ccd3" stroke-width="2.2" stroke-linecap="round" stroke-linejoin="round"/>
<text x="2262.80" y="1652.20" font-size="29.2" fill="#c9ccd3" textLength="182.75" lengthAdjust="spacingAndGlyphs">18:04:04 UTC</text>
<rect x="2466" y="1620" width="2" height="43" fill="#4f4f51"/>
<text x="2488.76" y="1652.20" font-size="29.2" fill="#c9ccd3" textLength="26.35" lengthAdjust="spacingAndGlyphs">%</text>
<text x="2540.15" y="1652.20" font-size="29.2" fill="#c9ccd3" textLength="44.75" lengthAdjust="spacingAndGlyphs">лог</text>
<text x="2608.96" y="1652.20" font-size="29.2" fill="#c9ccd3" textLength="59.08" lengthAdjust="spacingAndGlyphs">авто</text>
<path d="M1621 1550.4 H1757 V1587.7 a4 4 0 0 1 -4 4 H1625 a4 4 0 0 1 -4 -4 Z" fill="#3e3e3e"/>
<text x="1635.81" y="1582.00" font-size="21" fill="#ffffff" textLength="106.43" lengthAdjust="spacingAndGlyphs">07 Янв '26</text>
</svg>
</body></html>
